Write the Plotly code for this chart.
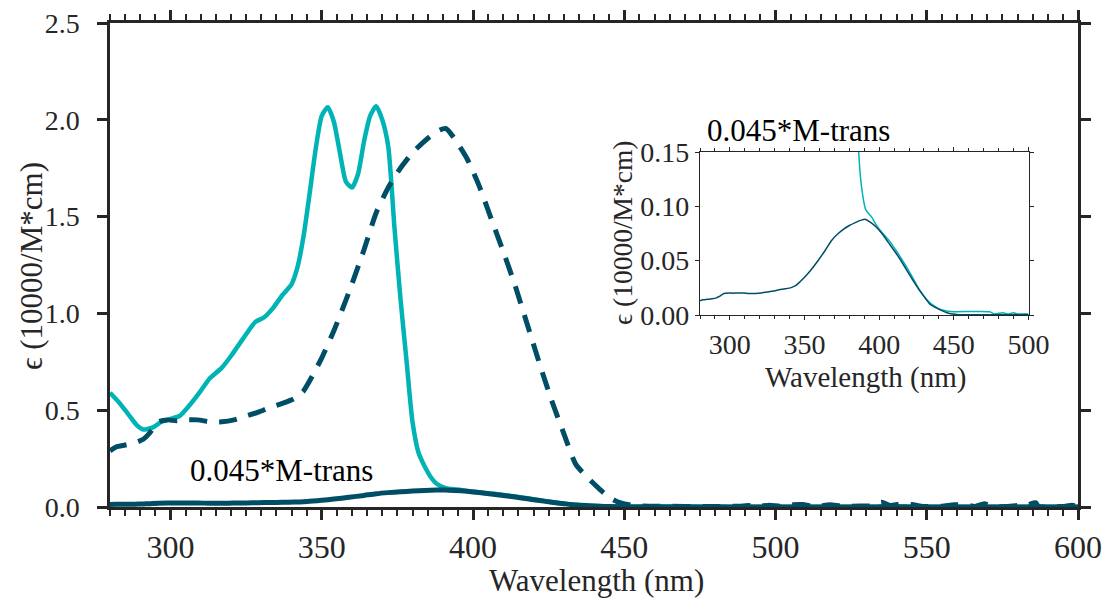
import plotly.graph_objects as go

# ---------------- data ----------------
# M-trans (dashed, main)
trans_wl = [280, 282, 285, 288, 291, 293, 296, 299, 302, 305, 309, 313, 317, 321, 325, 329, 333,
            337, 341, 344, 347, 350, 354, 359, 364, 368, 372, 376, 380, 384, 388, 391, 394, 398,
            402, 406, 410, 414, 418, 422, 426, 430, 434, 438, 442, 445, 448, 452, 456, 460, 470,
            480, 488, 491, 494, 498, 502, 506, 509, 513, 518, 522, 528, 532, 535, 538, 541, 545,
            549, 555, 559, 563, 566, 569, 572, 576, 580, 583, 586, 587, 590, 595, 598, 600]
trans_eps = [0.29, 0.31, 0.32, 0.33, 0.35, 0.38, 0.44, 0.45, 0.445, 0.45, 0.45, 0.44, 0.44, 0.45,
             0.47, 0.49, 0.515, 0.535, 0.56, 0.60, 0.68, 0.77, 0.91, 1.11, 1.33, 1.52, 1.65, 1.75,
             1.83, 1.89, 1.94, 1.955, 1.90, 1.80, 1.66, 1.49, 1.32, 1.14, 0.94, 0.74, 0.55, 0.38,
             0.22, 0.15, 0.09, 0.05, 0.025, 0.01, 0.005, 0.004, 0.003, 0.003, 0.004, 0.008, 0.003,
             0.009, 0.003, 0.012, 0.013, 0.003, 0.011, 0.004, 0.005, 0.006, 0.024, 0.008, 0.015,
             0.013, 0.003, 0.004, 0.012, 0.010, 0.003, 0.017, 0.003, 0.002, 0.008, 0.010, 0.022,
             0.002, 0.001, 0.002, 0.009, 0.002]

# second species (solid teal)
other_wl = [280, 283, 286, 289, 291, 294, 297, 300, 303, 306, 310, 313, 317, 320, 324, 328, 331,
            334, 337, 340, 342, 344, 346, 348, 350, 352, 354, 356, 358, 360, 362, 364, 366, 368,
            370, 372, 374, 376, 378, 380, 382, 384, 386, 388, 391, 395, 398, 403, 407, 412, 418,
            423, 427, 432, 436, 441, 446, 450, 474, 477, 483, 486, 490, 493, 500, 600]
other_eps = [0.59, 0.54, 0.48, 0.42, 0.40, 0.41, 0.44, 0.455, 0.47, 0.52, 0.60, 0.665, 0.72, 0.78,
             0.87, 0.955, 0.98, 1.03, 1.095, 1.15, 1.24, 1.40, 1.62, 1.85, 2.02, 2.065, 1.99, 1.83,
             1.68, 1.65, 1.72, 1.89, 2.02, 2.07, 2.00, 1.86, 1.45, 1.08, 0.76, 0.44, 0.28, 0.21,
             0.155, 0.12, 0.097, 0.09, 0.083, 0.074, 0.068, 0.058, 0.045, 0.033, 0.023, 0.014,
             0.009, 0.005, 0.0035, 0.003, 0.003, 0.001, 0.002, 0.001, 0.002, 0.001, 0.001, 0.001]

SCALE = 0.045  # "0.045*M-trans"
scaled_eps = [SCALE * v for v in trans_eps]

label_scaled = "0.045*M-trans"
x_title = "Wavelength (nm)"
y_title = "\u03f5 (10000/M*cm)"

TEAL = "#00b3b5"
DARK = "#004d66"
AX = "#262626"
FONT = "Liberation Serif, Times New Roman, serif"

fig = go.Figure()

# main panel
fig.add_trace(go.Scatter(x=other_wl, y=other_eps, mode="lines",
                         line=dict(color=TEAL, width=4.5, shape="spline", smoothing=0.6),
                         xaxis="x", yaxis="y", showlegend=False))
fig.add_trace(go.Scatter(x=trans_wl, y=scaled_eps, mode="lines",
                         line=dict(color=DARK, width=5, shape="spline", smoothing=0.6),
                         xaxis="x", yaxis="y", showlegend=False))
fig.add_trace(go.Scatter(x=trans_wl, y=trans_eps, mode="lines",
                         line=dict(color=DARK, width=5, dash="18px,12px", shape="spline", smoothing=0.6),
                         xaxis="x", yaxis="y", showlegend=False))

# inset
fig.add_trace(go.Scatter(x=other_wl, y=other_eps, mode="lines",
                         line=dict(color=TEAL, width=1.5, shape="spline", smoothing=0.6),
                         xaxis="x2", yaxis="y2", showlegend=False))
fig.add_trace(go.Scatter(x=trans_wl, y=scaled_eps, mode="lines",
                         line=dict(color=DARK, width=1.5, shape="spline", smoothing=0.6),
                         xaxis="x2", yaxis="y2", showlegend=False))

W, H = 1106, 600
main_x = [110 / W, 1078 / W]
main_y = [1 - 507 / H, 1 - 23 / H]
ins_x = [700 / W, 1028.5 / W]
ins_y = [1 - 315 / H, 1 - 152 / H]

common = dict(showgrid=False, zeroline=False, ticks="outside", mirror="ticks",
              linecolor=AX, tickcolor=AX, showline=True, automargin=False)

fig.update_layout(
    width=W, height=H, margin=dict(l=0, r=0, t=0, b=0, autoexpand=False),
    paper_bgcolor="white", plot_bgcolor="white",
    font=dict(family=FONT, color=AX),
    xaxis=dict(domain=main_x, range=[280, 600], tick0=300, dtick=50, anchor="y",
               ticklen=10, tickwidth=2.5, linewidth=2.5,
               minor=dict(dtick=5, ticklen=6, tickwidth=2, ticks="outside", tickcolor=AX),
               tickfont=dict(family=FONT, size=32, color=AX), ticklabelstandoff=0, **common),
    yaxis=dict(domain=main_y, range=[0, 2.5], dtick=0.5, tickformat=".1f", anchor="x",
               ticklen=10, tickwidth=2.5, linewidth=2.5,
               tickfont=dict(family=FONT, size=28, color=AX), ticklabelstandoff=12, **common),
    xaxis2=dict(domain=ins_x, range=[280, 500], tick0=300, dtick=50, anchor="y2",
                ticklen=4, tickwidth=1, linewidth=1.2,
                minor=dict(dtick=10, ticklen=3, tickwidth=1, ticks="outside", tickcolor=AX),
                tickfont=dict(family=FONT, size=28, color=AX), ticklabelstandoff=0, **common),
    yaxis2=dict(domain=ins_y, range=[0, 0.15], dtick=0.05, tickformat=".2f", anchor="x2",
                ticklen=4, tickwidth=1, linewidth=1.2,
                tickfont=dict(family=FONT, size=28, color=AX), ticklabelstandoff=0, **common),
)

anns = [
    dict(text=x_title, x=596 / W, y=1 - 580 / H, xref="paper", yref="paper",
         showarrow=False, font=dict(family=FONT, size=31, color=AX), xanchor="center", yanchor="middle"),
    dict(text=y_title, x=31 / W, y=1 - 266 / H, xref="paper", yref="paper", textangle=-90,
         showarrow=False, font=dict(family=FONT, size=31, color=AX), xanchor="center", yanchor="middle"),
    dict(text=label_scaled, x=305.8, y=0.19, xref="x", yref="y", showarrow=False,
         font=dict(family=FONT, size=31, color="black"), xanchor="left", yanchor="middle"),
    dict(text=x_title, x=865 / W, y=1 - 377 / H, xref="paper", yref="paper",
         showarrow=False, font=dict(family=FONT, size=29, color=AX), xanchor="center", yanchor="middle"),
    dict(text=y_title, x=623 / W, y=1 - 233 / H, xref="paper", yref="paper", textangle=-90,
         showarrow=False, font=dict(family=FONT, size=27.5, color=AX), xanchor="center", yanchor="middle"),
    dict(text=label_scaled, x=705 / W, y=1 - 130 / H, xref="paper", yref="paper", showarrow=False,
         font=dict(family=FONT, size=31, color="black"), xanchor="left", yanchor="middle"),
]
fig.update_layout(annotations=anns)

fig.write_html("out.html")
